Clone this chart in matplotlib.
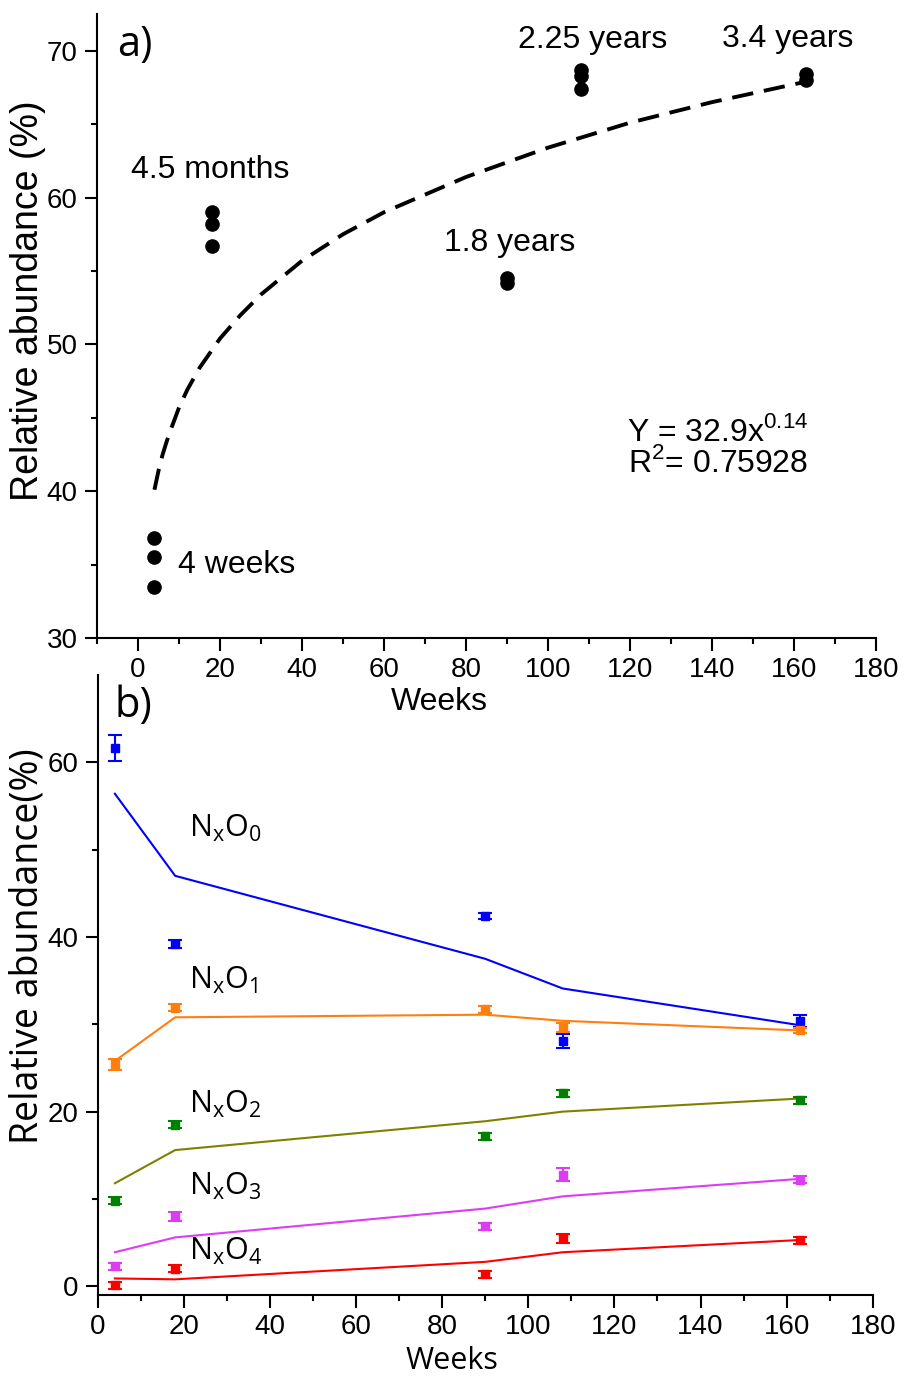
import matplotlib
matplotlib.use("Agg")
import matplotlib.pyplot as plt
import numpy as np

plt.rcParams['font.family'] = ['Liberation Sans', 'DejaVu Sans']

# panel a) data, three replicates per time point
weeks_a = [4, 4, 4, 18, 18, 18, 90, 90, 108, 108, 108, 163, 163]
abund_a = [36.8, 35.5, 33.5, 59.0, 58.2, 56.7, 54.5, 54.2, 68.7, 68.3, 67.4, 68.4, 68.0]

# dashed power fit
fit_x = [4, 5, 6, 7, 8, 10, 12, 15, 20, 25, 30, 40, 50, 60, 80, 100, 120, 140, 163]
fit_y = [40.1, 41.4, 42.5, 43.4, 44.2, 45.7, 46.9, 48.4, 50.4, 52.0, 53.4, 55.7, 57.5, 59.0, 61.4, 63.4, 65.1, 66.5, 67.9]

point_labels = ["4 weeks", "4.5 months", "1.8 years", "2.25 years", "3.4 years"]
label_x = [9.8, -1.7, 74.6, 92.7, 142.4]
label_y = [35.0, 61.9, 56.9, 70.75, 70.8]

# panel b) data
weeks_b = [4, 18, 90, 108, 163]
species = ["0", "1", "2", "3", "4"]
meas = {
    "0": [61.6, 39.2, 42.4, 28.1, 30.4],
    "1": [25.4, 31.9, 31.7, 29.6, 29.3],
    "2": [9.8, 18.5, 17.2, 22.1, 21.3],
    "3": [2.3, 8.0, 6.9, 12.8, 12.2],
    "4": [0.1, 2.0, 1.4, 5.5, 5.3],
}
err = {
    "0": [1.5, 0.5, 0.4, 0.8, 0.7],
    "1": [0.6, 0.4, 0.4, 0.5, 0.3],
    "2": [0.4, 0.4, 0.4, 0.4, 0.4],
    "3": [0.4, 0.5, 0.4, 0.7, 0.4],
    "4": [0.4, 0.4, 0.4, 0.5, 0.4],
}
model = {
    "0": [56.4, 47.0, 37.5, 34.1, 29.9],
    "1": [25.8, 30.8, 31.1, 30.4, 29.3],
    "2": [11.8, 15.6, 18.9, 20.0, 21.5],
    "3": [3.9, 5.6, 8.9, 10.3, 12.3],
    "4": [0.9, 0.8, 2.8, 3.9, 5.3],
}
marker_col = {"0": "#0000ff", "1": "#ff7f0e", "2": "#008000", "3": "#dd3cf5", "4": "#ff0000"}
line_col = {"0": "#0000ff", "1": "#ff7f0e", "2": "#808000", "3": "#dd3cf5", "4": "#ff0000"}
name_y = [51.5, 34.1, 19.9, 10.5, 3.05]

fig = plt.figure(figsize=(9.06, 13.78), dpi=100)
ax1 = fig.add_axes([0.1071, 0.537, 0.8598, 0.4528])
ax2 = fig.add_axes([0.1078, 0.0602, 0.8555, 0.4500])
ax2.set_facecolor('none')

def style(ax):
    for s in ['top', 'right']:
        ax.spines[s].set_visible(False)
    for s in ['left', 'bottom']:
        ax.spines[s].set_linewidth(1.5)
    ax.tick_params(which='major', length=9, width=1.5, labelsize=20, pad=5)
    ax.tick_params(which='minor', length=4.5, width=1.5)

# ---- a)
ax1.plot(weeks_a, abund_a, 'o', color='black', ms=9.5, zorder=3)
ax1.plot(fit_x, fit_y, color='black', lw=2.8, dashes=(5.5, 2.8))
ax1.set_xlim(-10, 180)
ax1.set_ylim(30, 72.5)
ax1.set_xticks(np.arange(0, 181, 20))
ax1.set_xticks(np.arange(-10, 181, 10), minor=True)
ax1.set_yticks(np.arange(30, 71, 10))
ax1.set_yticks(np.arange(35, 71, 10), minor=True)
style(ax1)
ax1.set_xlabel("Weeks", fontsize=23)
ax1.xaxis.set_label_coords(0.439, -0.078)
ax1.set_ylabel("Relative abundance (%)", fontsize=27)
ax1.yaxis.set_label_coords(-0.066, 0.54)

for t, x, y in zip(point_labels, label_x, label_y):
    ax1.text(x, y, t, fontsize=23, ha='left', va='center')
ax1.text(163.4, 44.0, r"Y = 32.9x$^\mathregular{0.14}$", fontsize=23, ha='right', va='center')
ax1.text(163.4, 41.9, r"R$^\mathregular{2}$= 0.75928", fontsize=23, ha='right', va='center')
ax1.text(-5, 70.4, "a)", fontsize=30, family='Open Sans', ha='left', va='center')

# ---- b)
for sp in species:
    ax2.plot(weeks_b, model[sp], color=line_col[sp], lw=1.5)
    ax2.errorbar(weeks_b, meas[sp], yerr=err[sp], fmt='s', color=marker_col[sp],
                 ms=5.5, capsize=5, elinewidth=1.5, capthick=1.5, zorder=3)
for sp, y in zip(species, name_y):
    ax2.text(21.2, y, r"N$_\mathregular{x}$O$_\mathregular{%s}$" % sp, fontsize=22,
             family='Open Sans', ha='left', va='baseline')
ax2.set_xlim(0, 180)
ax2.set_ylim(-1, 70)
ax2.set_xticks(np.arange(0, 181, 20))
ax2.set_xticks(np.arange(10, 181, 20), minor=True)
ax2.set_yticks(np.arange(0, 61, 20))
ax2.set_yticks(np.arange(10, 61, 20), minor=True)
style(ax2)
ax2.set_xlabel("Weeks", fontsize=22, family='Open Sans')
ax2.xaxis.set_label_coords(0.457, -0.082)
ax2.set_ylabel("Relative abundance(%)", fontsize=27, family='Open Sans')
ax2.yaxis.set_label_coords(-0.066, 0.563)
ax2.text(4.0, 66.4, "b)", fontsize=30, family='Open Sans', ha='left', va='center')

fig.savefig("out.png", dpi=100)
